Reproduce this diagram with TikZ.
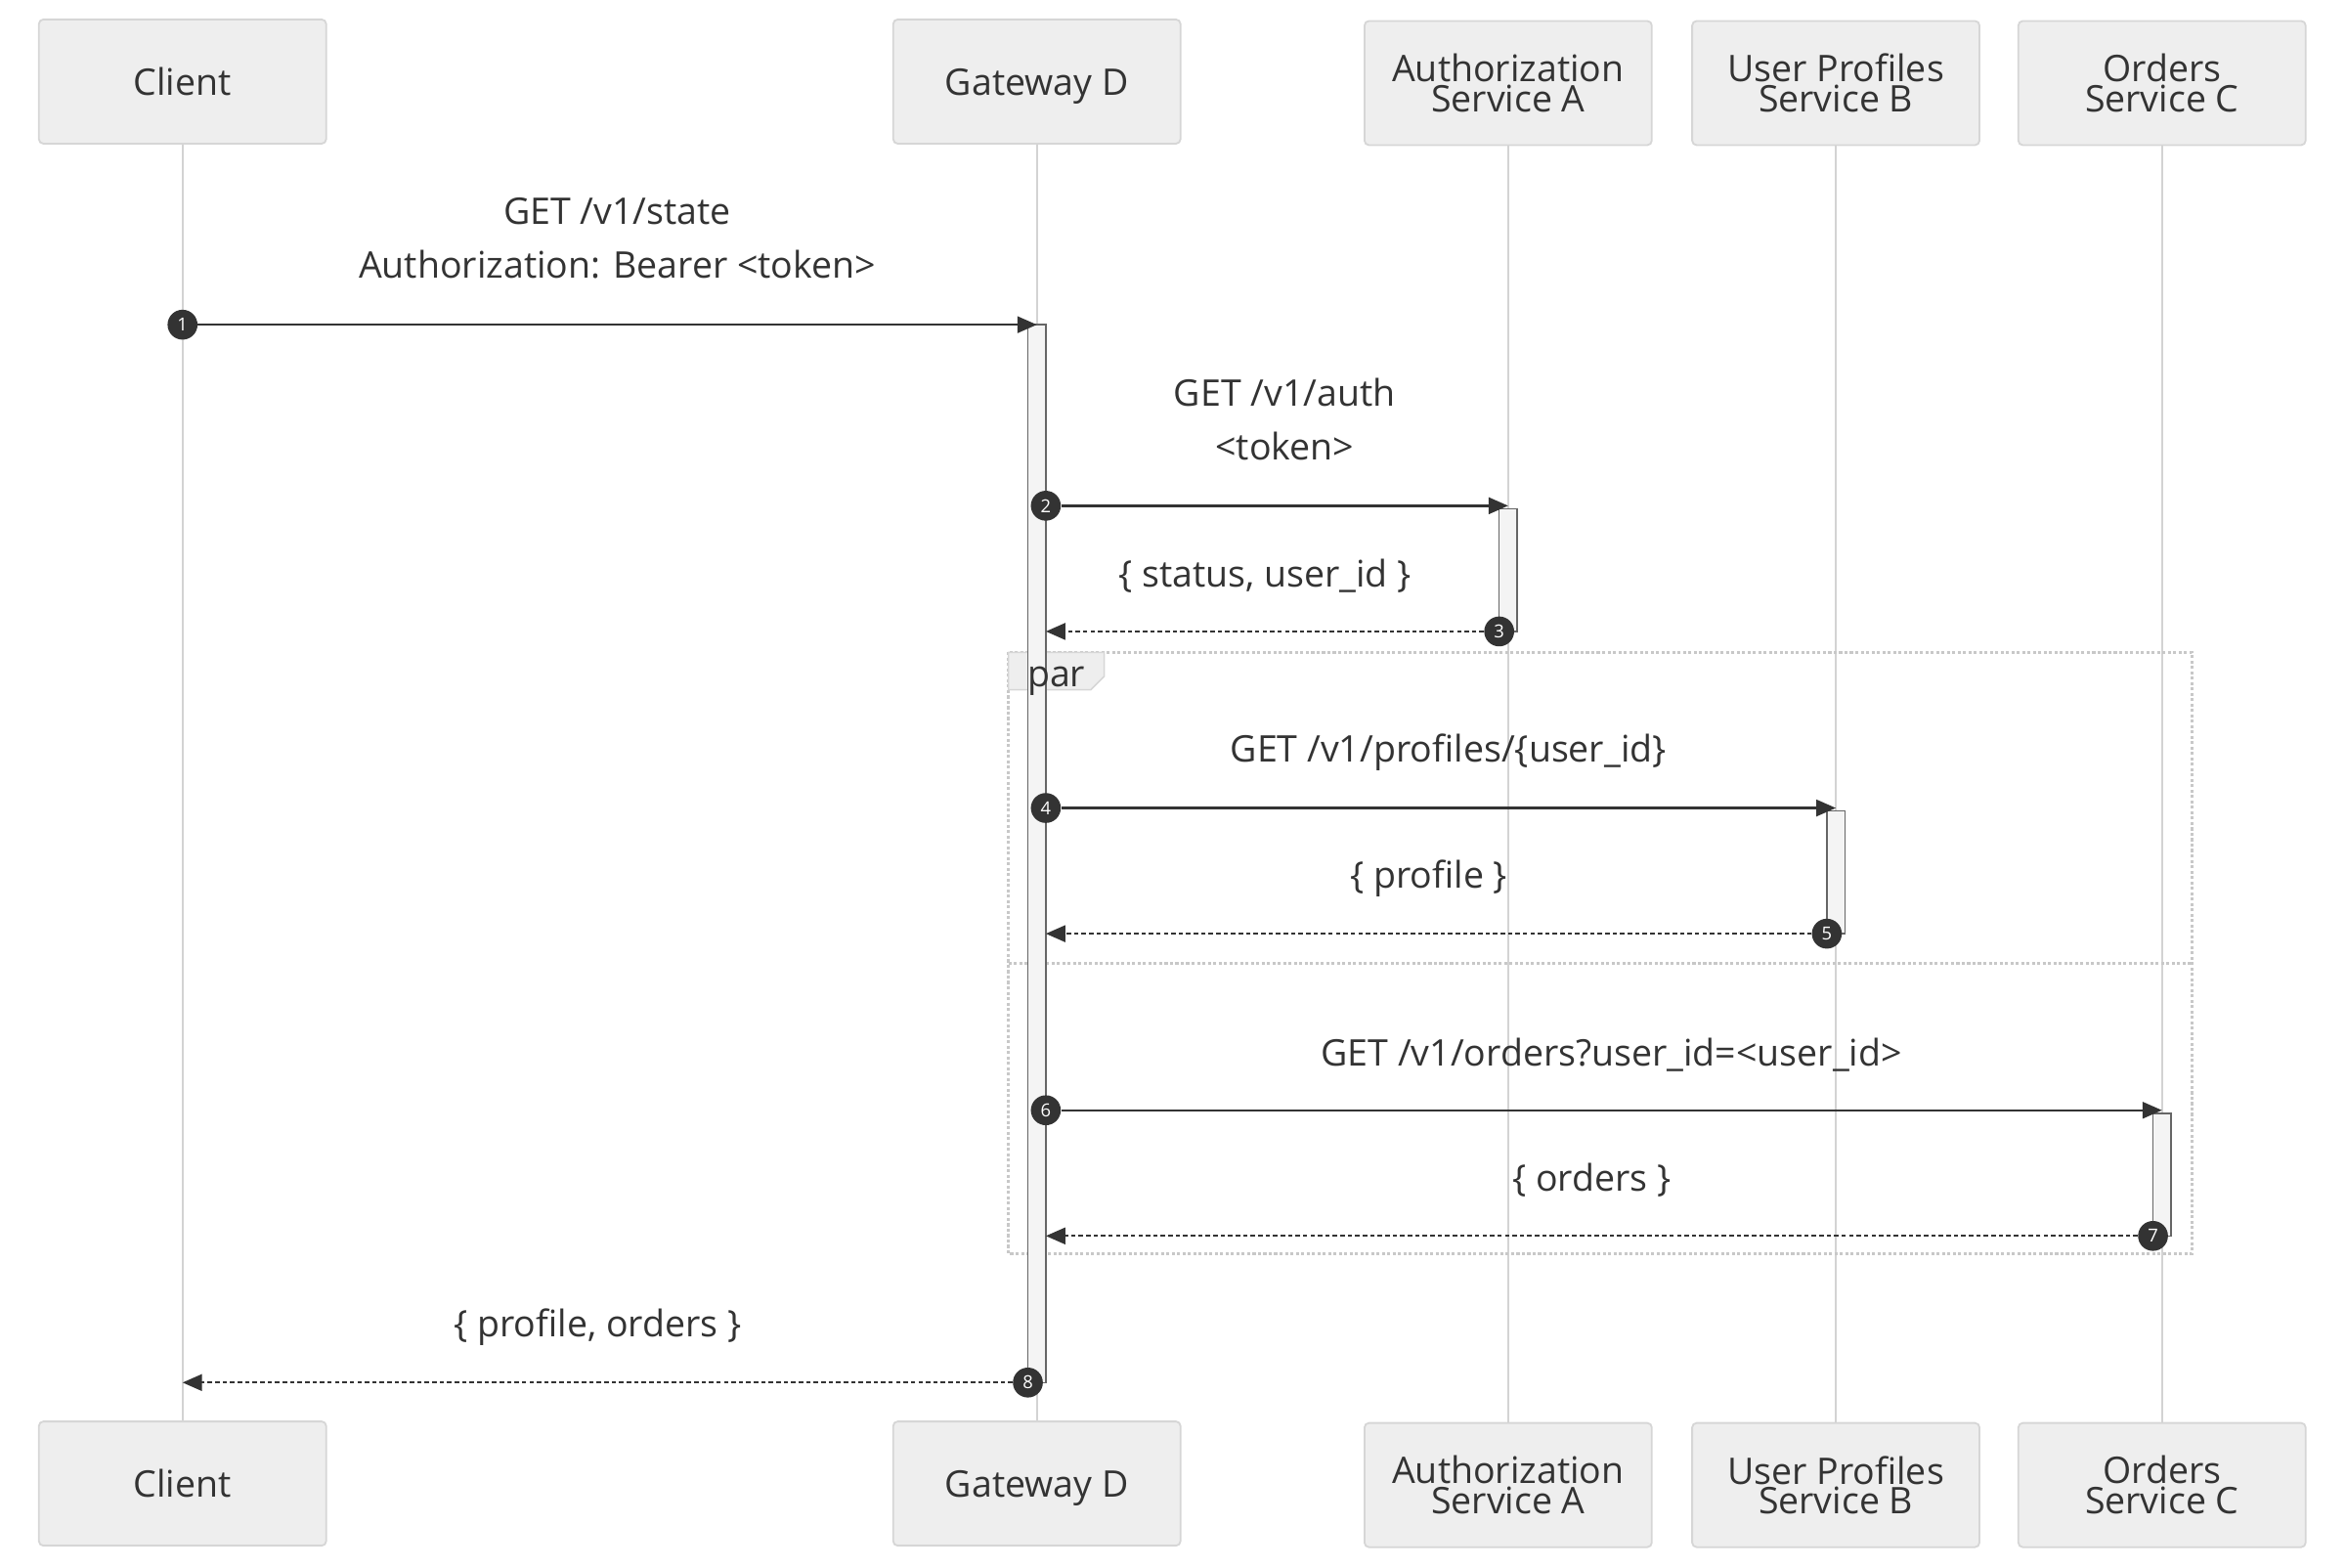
\documentclass[tikz,border=0pt]{standalone}
\usepackage{fontspec}
\setmainfont{Open Sans}
\usetikzlibrary{arrows.meta,positioning,calc}
\definecolor{boxfill}{HTML}{EEEEEE}
\definecolor{boxline}{HTML}{D6D6D6}
\definecolor{lifeline}{HTML}{D3D3D3}
\definecolor{ink}{HTML}{333333}
\definecolor{actfill}{HTML}{F4F4F4}
\definecolor{actline}{HTML}{666666}
\definecolor{parline}{HTML}{C8C8C8}

\begin{document}
\begin{tikzpicture}[x=1pt,y=-1pt,
    actor/.style={draw=boxline,fill=boxfill,line width=1.2pt,rounded corners=3pt,
      minimum width=192pt,minimum height=83pt,inner sep=0pt,align=center,
      text=ink,font=\fontsize{24.5}{20}\selectfont},
    actorone/.style={actor,text height=20pt,text depth=1.5pt},
    life/.style={draw=lifeline,line width=1.4pt},
    act/.style={draw=actline,fill=actfill,line width=1pt},
    msg/.style={draw=ink,line width=1.5pt,-{Triangle[length=13pt,width=11pt]}},
    reply/.style={msg,dash pattern=on 3pt off 2pt},
    lbl/.style={midway,yshift=39pt,align=center,text=ink,font=\fontsize{24.5}{36}\selectfont},
    num/.style={circle,fill=ink,text=white,inner sep=0pt,minimum size=20pt,
      font=\fontsize{12}{12}\selectfont},
    fragment/.style={draw=parline,line width=1.8pt,dash pattern=on 2pt off 1.6pt}]
  \useasboundingbox (0,0) rectangle (1568,1047.9);

  % actors, top and bottom
  \node[actorone] (client) at (122,54.5) {Client};
  \node[actorone] (gw) at (693,54.5) {Gateway D};
  \node[actor] (auth) at (1008,55.5) {Authorization\\Service A};
  \node[actor] (prof) at (1227,55.5) {User Profiles\\Service B};
  \node[actor] (ord) at (1445,55.5) {Orders\\Service C};
  \node[actorone] (clientB) at (122,991.5) {Client};
  \node[actorone] (gwB) at (693,991.5) {Gateway D};
  \node[actor] (authB) at (1008,992.5) {Authorization\\Service A};
  \node[actor] (profB) at (1227,992.5) {User Profiles\\Service B};
  \node[actor] (ordB) at (1445,992.5) {Orders\\Service C};

  \draw[life] (client) -- (clientB);
  \draw[life] (gw) -- (gwB);
  \draw[life] (auth) -- (authB);
  \draw[life] (prof) -- (profB);
  \draw[life] (ord) -- (ordB);

  % par block
  \draw[fragment] (674,436) rectangle (1465,838);
  \draw[fragment] (674,644) -- (1465,644);
  \filldraw[fill=boxfill,draw=boxline,line width=1pt] (674,436) -- (738,436) -- (738,452)
    -- (729,461) -- (674,461) -- cycle;

  % activations
  \draw[act] (687,217) rectangle (699,924);
  \draw[act] (1002,340) rectangle (1014,422);
  \draw[act] (1221,542) rectangle (1233,624);
  \draw[act] (1439,744) rectangle (1451,826);
  \node[text=ink,font=\fontsize{24.5}{20}\selectfont] (parlbl) at (706,455) {par};

  % messages
  \node[num] (n1) at (122,217) {1};
  \coordinate (e1) at (693,217);
  \draw[msg] (n1) -- node[lbl,yshift=19pt] {GET /v1/state\\Authorization: Bearer <token>} (e1);

  \node[num] (n2) at (699,338) {2};
  \coordinate (e2) at (1008,338);
  \draw[msg] (n2) -- node[lbl,yshift=19pt] {GET /v1/auth\\<token>} (e2);

  \node[num] (n3) at (1002,422) {3};
  \coordinate (e3) at (699,422);
  \draw[reply] (n3) -- node[lbl,yshift=-2pt] {\{ status, user\_id \}} (e3);

  \node[num] (n4) at (699,540) {4};
  \coordinate (e4) at (1227,540);
  \draw[msg] (n4) -- node[lbl,yshift=-2pt] {GET /v1/profiles/\{user\_id\}} (e4);

  \node[num] (n5) at (1221,624) {5};
  \coordinate (e5) at (699,624);
  \draw[reply] (n5) -- node[lbl,yshift=-2pt] {\{ profile \}} (e5);

  \node[num] (n6) at (699,742) {6};
  \coordinate (e6) at (1445,742);
  \draw[msg] (n6) -- node[lbl,yshift=-2pt] {GET /v1/orders?user\_id=<user\_id>} (e6);

  \node[num] (n7) at (1439,826) {7};
  \coordinate (e7) at (699,826);
  \draw[reply] (n7) -- node[lbl,yshift=-2pt] {\{ orders \}} (e7);

  \node[num] (n8) at (687,924) {8};
  \coordinate (e8) at (122,924);
  \draw[reply] (n8) -- node[lbl,yshift=-2pt] {\{ profile, orders \}} (e8);
\end{tikzpicture}
\end{document}
